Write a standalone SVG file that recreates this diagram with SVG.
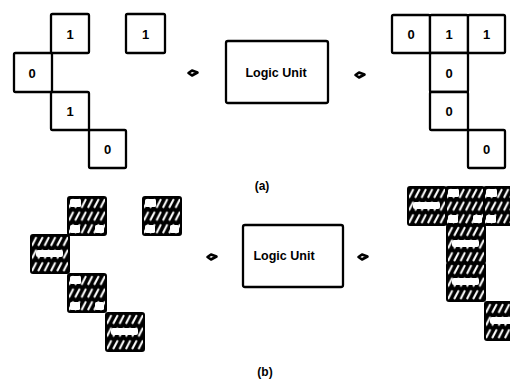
<svg xmlns="http://www.w3.org/2000/svg" xmlns:xlink="http://www.w3.org/1999/xlink" width="510" height="380" viewBox="0 0 510 380">
<style>
.box{fill:#fff;stroke:#000;stroke-width:2.3;stroke-linejoin:round}
.d{font-family:"Liberation Sans",Arial,sans-serif;font-weight:bold;font-size:13px;text-anchor:middle;fill:#000}
.lu{font-family:"Liberation Sans",Arial,sans-serif;font-weight:bold;font-size:12.5px;text-anchor:middle;fill:#000}
.cap{font-family:"Liberation Sans",Arial,sans-serif;font-weight:bold;font-size:12px;text-anchor:middle;fill:#000}
.dia{fill:#fff;stroke:#000;stroke-width:2.6;stroke-linejoin:round}
.wb{fill:#fff}
</style>
<defs>
<pattern id="h" width="6.33" height="12.67" patternUnits="userSpaceOnUse">
<rect width="6.33" height="12.67" fill="#000"/>
<path d="M1.3,10 L5,2.8" stroke="#fff" stroke-width="2.1" stroke-linecap="round"/>
</pattern>
<symbol id="c0" overflow="visible">
<rect width="38" height="38" rx="2" fill="url(#h)" stroke="#000" stroke-width="2"/>
<rect class="wb" x="5" y="15" width="27" height="7" rx="2"/>
</symbol>
<symbol id="c1" overflow="visible">
<rect width="38" height="38" rx="2" fill="url(#h)" stroke="#000" stroke-width="2"/>
<rect class="wb" x="2" y="2" width="11" height="8" rx="1.5"/>
<rect class="wb" x="2" y="28" width="10" height="8" rx="1.5"/>
<rect class="wb" x="27" y="28" width="9" height="8" rx="1.5"/>
</symbol>
</defs>
<rect width="510" height="380" fill="#fff"/>

<!-- (a) input pattern -->
<g id="a-in-1"><rect class="box" x="51" y="14" width="38" height="39" rx="1.5"/><text class="d" x="70" y="38.5">1</text></g>
<g id="a-in-2"><rect class="box" x="126" y="14" width="39" height="39" rx="1.5"/><text class="d" x="145.5" y="38.5">1</text></g>
<g id="a-in-3"><rect class="box" x="14" y="53" width="38" height="39" rx="1.5"/><text class="d" x="32" y="77.5">0</text></g>
<g id="a-in-4"><rect class="box" x="51" y="92" width="38" height="38" rx="1.5"/><text class="d" x="70" y="115.5">1</text></g>
<g id="a-in-5"><rect class="box" x="89" y="130" width="37" height="38" rx="1.5"/><text class="d" x="107.5" y="153.5">0</text></g>

<g id="a-logic"><rect class="box" x="226" y="41" width="102" height="62" rx="2"/><text class="lu" x="276" y="77">Logic Unit</text></g>

<!-- (a) output pattern -->
<g id="a-out-1"><rect class="box" x="392" y="15" width="38" height="38" rx="1.5"/><text class="d" x="411" y="38.5">0</text></g>
<g id="a-out-2"><rect class="box" x="430" y="15" width="38" height="38" rx="1.5"/><text class="d" x="449" y="38.5">1</text></g>
<g id="a-out-3"><rect class="box" x="468" y="15" width="37" height="38" rx="1.5"/><text class="d" x="486.5" y="38.5">1</text></g>
<g id="a-out-4"><rect class="box" x="430" y="53" width="38" height="39" rx="1.5"/><text class="d" x="449" y="77.5">0</text></g>
<g id="a-out-5"><rect class="box" x="430" y="92" width="38" height="38" rx="1.5"/><text class="d" x="449" y="115.5">0</text></g>
<g id="a-out-6"><rect class="box" x="468" y="130" width="37" height="38" rx="1.5"/><text class="d" x="486.5" y="153.5">0</text></g>

<g id="connectors">
<path class="dia" d="M188.5,73 L192,70.5 L197.5,72.5 L192,75.5 Z"/>
<path class="dia" d="M355.5,75 L359,72.5 L364.5,74.5 L359,77.5 Z"/>
<path class="dia" d="M207.5,257 L211,254.5 L216.5,256.5 L211,259.5 Z"/>
<path class="dia" d="M358.5,257 L362,254.5 L367.5,256.5 L362,259.5 Z"/>
</g>

<text class="cap" x="262" y="190">(a)</text>

<!-- (b) input pattern -->
<g id="b-in-1"><use xlink:href="#c1" href="#c1" x="68" y="197"/></g>
<g id="b-in-2"><use xlink:href="#c1" href="#c1" x="143" y="197"/></g>
<g id="b-in-3"><use xlink:href="#c0" href="#c0" x="31" y="235"/></g>
<g id="b-in-4"><use xlink:href="#c1" href="#c1" x="68" y="274"/></g>
<g id="b-in-5"><use xlink:href="#c0" href="#c0" x="106" y="313"/></g>

<g id="b-logic"><rect class="box" x="243" y="225" width="100" height="62" rx="2"/><text class="lu" x="284" y="260">Logic Unit</text></g>

<!-- (b) output pattern -->
<g id="b-out-1"><use xlink:href="#c0" href="#c0" x="408" y="187"/></g>
<g id="b-out-2"><use xlink:href="#c1" href="#c1" x="446" y="187"/></g>
<g id="b-out-3"><use xlink:href="#c1" href="#c1" x="484" y="187"/></g>
<g id="b-out-4"><use xlink:href="#c0" href="#c0" x="447" y="225"/></g>
<g id="b-out-5"><use xlink:href="#c0" href="#c0" x="447" y="263"/></g>
<g id="b-out-6"><use xlink:href="#c0" href="#c0" x="485" y="302"/></g>

<text class="cap" x="265" y="376">(b)</text>
</svg>
